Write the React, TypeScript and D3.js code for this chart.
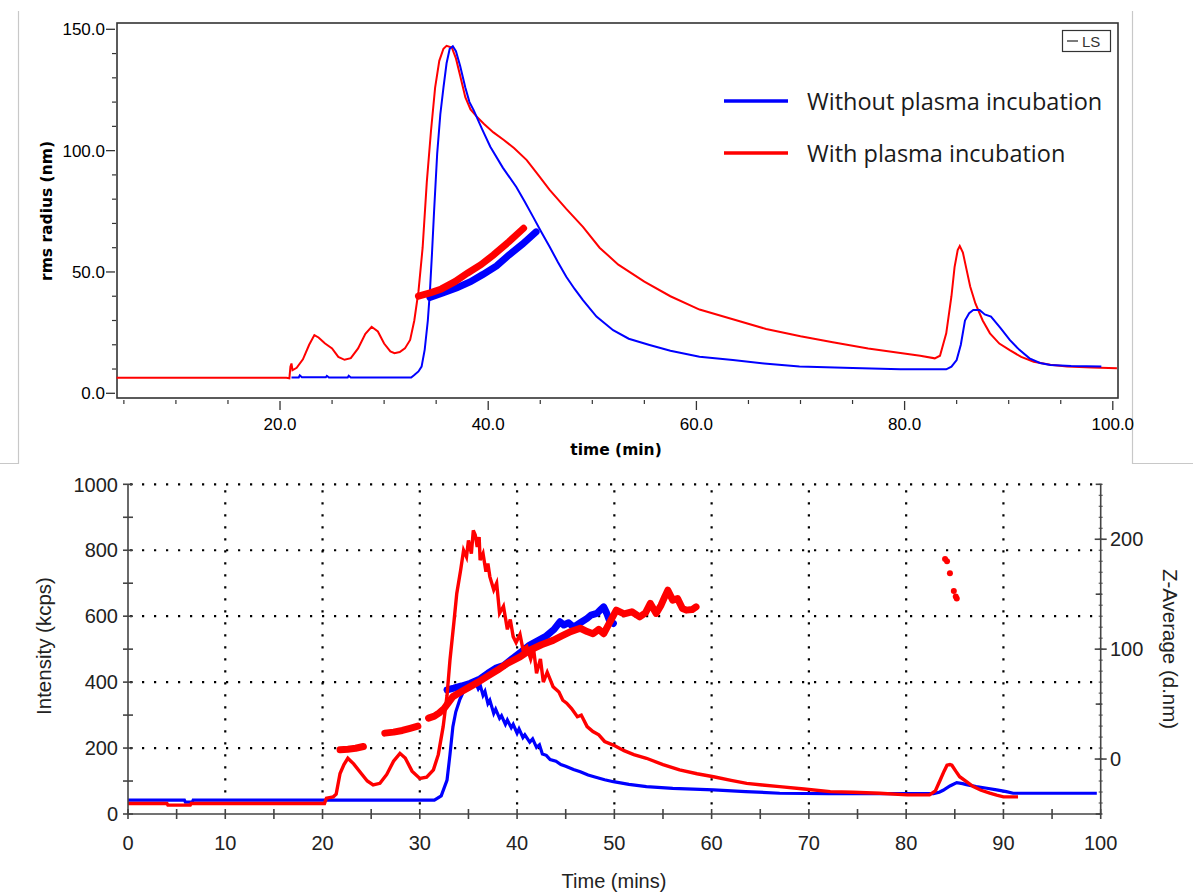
import React from 'react';
import * as d3 from 'd3';

type P = [number, number];

// ---------- Top panel: rms radius (nm) vs time (min) ----------
const rmsWithPlasma: P[] = [
  [4.3, 6.4], [20.6, 6.4], [20.9, 6.2], [21.0, 11], [21.1, 12.3], [21.2, 9.5], [21.6, 10.5], [22.2, 14],
  [22.8, 20], [23.3, 24], [23.7, 23], [24.3, 20.6], [25.0, 18.5], [25.6, 15], [26.2, 13.8], [26.8, 14.5],
  [27.5, 18.5], [28.2, 24.5], [28.8, 27.4], [29.4, 25.5], [30.0, 20.5], [30.6, 17.3], [31.0, 16.5],
  [31.5, 17], [32.0, 18.5], [32.5, 22], [32.9, 30], [33.3, 42], [33.7, 60], [34.1, 87], [34.5, 108],
  [34.9, 126], [35.3, 137], [35.7, 142], [36.0, 143.2], [36.5, 142.5], [36.9, 138], [37.3, 131],
  [37.8, 122], [38.3, 117], [38.9, 114], [39.6, 111], [40.5, 107.5], [41.5, 104.4], [42.5, 101],
  [43.7, 96.1], [44.8, 90], [45.9, 83.8], [47.5, 76], [49.1, 68.6], [50.7, 60], [52.5, 53], [55, 46],
  [57.5, 40], [60.3, 34.5], [63.5, 30.5], [66.7, 26.5], [70, 23.5], [73.1, 21], [76.5, 18.5],
  [79.6, 16.6], [81.5, 15.5], [82.9, 14.4], [83.4, 15.5], [84.0, 24.7], [84.5, 40], [84.8, 52],
  [85.1, 59], [85.3, 60.7], [85.6, 58], [85.9, 52], [86.3, 44], [86.8, 37], [87.5, 30], [88.2, 24.7],
  [89.1, 20.5], [90.1, 17.8], [91.2, 15], [92.4, 13], [94, 11.8], [95.6, 11], [98, 10.6], [100.4, 10.3],
];

const rmsWithoutPlasma: P[] = [
  [21.1, 6.5], [21.8, 6.5], [21.9, 7.4], [22.1, 6.6], [24.4, 6.6], [24.5, 7.2], [24.7, 6.5], [26.5, 6.5],
  [26.6, 7.2], [26.8, 6.5], [32.6, 6.5], [32.9, 7.5], [33.3, 9], [33.6, 11], [33.9, 18], [34.2, 30],
  [34.4, 42], [34.6, 57.7], [34.8, 75], [35.1, 98.9], [35.4, 115], [35.7, 126], [36.0, 136], [36.3, 142],
  [36.6, 143], [36.9, 141], [37.3, 135], [37.8, 126], [38.2, 120], [38.6, 116.7], [39.4, 109],
  [40.2, 101.6], [41.4, 93], [42.7, 85], [43.5, 79], [44.3, 72.8], [45.1, 66.5], [45.9, 60.4],
  [46.7, 54], [47.5, 48], [48.3, 43], [49.1, 38.4], [50.4, 31.6], [52, 26], [53.5, 22.5], [55.5, 19.9],
  [57.5, 17.5], [60.3, 15.1], [63.5, 13.7], [66.5, 12.3], [69.9, 11], [75, 10.4], [79.6, 9.9],
  [84.0, 9.9], [84.5, 11], [85.0, 13.7], [85.4, 20], [85.8, 30], [86.2, 33], [86.6, 34.3], [87.2, 34.3],
  [87.7, 32.5], [88.3, 31.6], [89.2, 27], [90.1, 22], [91, 18], [92.0, 14.4], [93, 12.5], [94.0, 11.7],
  [96, 11.2], [98.9, 11],
];

const rmsBandWith: P[] = [
  [33.3, 40], [34.5, 41.5], [35.5, 43], [36.8, 46], [38, 49.5], [39.3, 53], [40.5, 57], [42, 62.5], [43.4, 68],
];
const rmsBandWithout: P[] = [
  [34.4, 39.5], [35.7, 41.5], [37, 43.5], [38.3, 46], [39.5, 49], [40.8, 52.5], [42, 57], [43.3, 61.5], [44.6, 66.5],
];

const topXMajor = [20, 40, 60, 80, 100];
const topXMinor = [5, 10, 15, 25, 30, 35, 45, 50, 55, 65, 70, 75, 85, 90, 95];
const topYMajor = [0, 50, 100, 150];
const topYMinor = [10, 20, 30, 40, 60, 70, 80, 90, 110, 120, 130, 140];

const legendLabels = ['Without plasma incubation', 'With plasma incubation'];

// ---------- Bottom panel: Intensity (kcps) / Z-Average (d.nm) vs Time (mins) ----------
const intensityWithout: P[] = [
  [0, 42], [5.8, 42], [5.9, 36], [6.6, 36], [6.7, 42], [31.5, 42], [32.2, 55], [32.8, 103], [33.1, 180],
  [33.4, 265], [33.7, 310], [34.1, 346], [34.5, 372], [34.8, 386], [35.2, 396], [35.7, 401], [36.0, 380],
  [36.2, 392], [36.5, 360], [36.7, 372], [37.0, 335], [37.2, 345], [37.6, 305], [37.8, 318], [38.2, 290],
  [38.4, 298], [38.8, 272], [39.0, 285], [39.4, 262], [39.6, 272], [40.0, 245], [40.2, 258], [40.6, 232],
  [40.8, 240], [41.3, 218], [41.6, 228], [42.0, 202], [42.3, 210], [42.6, 182], [43.0, 178], [43.4, 165],
  [44, 160], [44.5, 150], [45, 145], [45.8, 135], [46.5, 128], [47.3, 118], [48, 112], [49.0, 104],
  [49.9, 98], [51.5, 90], [53.3, 83], [56, 78], [60.2, 73], [63.5, 68], [67, 63], [72, 62], [77.3, 62],
  [82.8, 62], [83.4, 66], [83.8, 72], [84.5, 85], [85.2, 95], [85.8, 92], [86.2, 89], [87.2, 83],
  [88.3, 78], [89.3, 73], [90.3, 68], [91.0, 63], [99.6, 63],
];

const intensityWith: P[] = [
  [0, 32], [4, 32], [4.1, 27], [6.4, 27], [6.5, 32], [20.2, 32], [20.4, 48], [21.1, 52], [21.4, 60],
  [21.8, 123], [22.2, 150], [22.6, 169], [23.2, 152], [24.0, 122], [24.6, 100], [25.2, 88], [25.9, 93],
  [26.6, 120], [27.3, 160], [27.96, 184], [28.5, 170], [29.2, 130], [30.0, 108], [30.7, 112], [31.4, 134],
  [31.9, 180], [32.4, 265], [32.8, 360], [33.1, 467], [33.5, 580], [33.8, 669], [34.2, 740], [34.5, 800],
  [34.8, 780], [35.0, 830], [35.3, 790], [35.5, 860], [35.7, 846], [35.9, 810], [36.1, 840], [36.2, 770],
  [36.5, 790], [36.8, 735], [37.0, 760], [37.2, 720], [37.6, 680], [37.9, 700], [38.2, 609], [38.6, 630],
  [39.0, 560], [39.3, 590], [39.6, 538], [39.9, 520], [40.3, 545], [40.6, 500], [41.0, 508], [41.4, 470],
  [41.7, 500], [42.0, 427], [42.4, 470], [42.7, 400], [43.1, 430], [43.7, 386], [44.3, 370], [44.7, 345],
  [45.1, 336], [45.6, 320], [46.2, 295], [46.6, 300], [47.2, 265], [47.8, 250], [48.4, 240], [49.0, 220],
  [49.9, 209], [51, 192], [52, 180], [53.3, 169], [55, 150], [56.7, 134], [58.5, 122], [60.2, 113],
  [62, 102], [63.6, 93], [65.2, 88], [67, 83], [69.5, 76], [72.2, 68], [74.5, 66], [77.3, 63], [80.1, 58],
  [82.4, 58], [83.0, 70], [83.5, 103], [83.9, 130], [84.2, 148], [84.5, 150], [84.7, 148], [85.1, 130],
  [85.5, 113], [86.2, 98], [86.9, 83], [87.7, 72], [88.6, 63], [89.3, 57], [90.0, 52], [91.5, 52],
];

const zAvgWithout: P[] = [
  [32.8, 62.9], [33.5, 64.5], [34.3, 66.5], [35.2, 69], [36.2, 73], [37.0, 78], [37.9, 83], [38.6, 85],
  [39.6, 92], [40.5, 98], [41.3, 103.7], [42.2, 108], [43.0, 112], [43.8, 118], [44.4, 124.9], [44.8, 122],
  [45.3, 124], [45.8, 120], [46.5, 124], [47.2, 128], [47.6, 131], [48.2, 132.5], [48.6, 136], [48.9, 138.5],
  [49.2, 133], [49.5, 126], [49.9, 123.4],
];
const zAvgWithA: P[] = [[21.8, 8.5], [22.6, 9], [23.4, 9.8], [24.2, 11.4]];
const zAvgWithB: P[] = [[26.4, 23.6], [27.3, 24.5], [28.2, 26], [29.0, 28], [29.8, 30]];
const zAvgWithC: P[] = [
  [30.9, 37.2], [31.5, 39], [32.0, 42], [32.5, 46], [33.0, 52], [33.4, 56.8], [34.2, 61], [35.0, 65],
  [36.0, 70], [36.9, 75], [38.0, 81], [39.0, 87], [40.3, 93], [41.3, 99], [42.5, 104], [43.7, 108],
  [44.6, 112], [45.5, 116], [46.5, 119], [47.2, 116], [47.8, 114], [48.4, 118], [48.9, 114], [49.5, 124],
  [50.2, 135.5], [51.0, 132], [51.8, 134], [52.6, 129.4], [53.2, 133], [53.7, 141.6], [54.3, 132.5],
  [54.8, 140], [55.2, 148], [55.5, 153.6], [56.0, 144.6], [56.5, 146], [57.0, 137], [57.4, 135.5],
  [58.0, 136], [58.4, 138.5],
];
const zAvgWithLate: P[] = [[84.0, 182], [84.2, 180], [84.5, 169], [84.9, 153], [85.1, 148], [85.2, 146]];

const botXTicks = d3.range(0, 101, 10);
const botXMinor = d3.range(5, 100, 10);
const botYLeft = [0, 200, 400, 600, 800, 1000];
const botYLeftMinor = [100, 300, 500, 700, 900];
const botYRight = [0, 100, 200];
const botYRightMid = [-50, 50, 150, 250];
const botYRightSmall = d3.range(-50, 251, 10);

const BLUE = '#0000ff';
const RED = '#ff0000';

export default function App() {
  // top scales
  const tx = d3.scaleLinear().domain([4.34, 100.5]).range([117, 1118]);
  const ty = d3.scaleLinear().domain([0, 150]).range([393.3, 29.3]);
  const topLine = d3.line<P>().x((d) => tx(d[0])).y((d) => ty(d[1]));

  // bottom scales
  const bx = d3.scaleLinear().domain([0, 100]).range([128, 1100.7]);
  const byL = d3.scaleLinear().domain([0, 1000]).range([814, 484.3]);
  const byR = d3.scaleLinear().domain([-50, 250]).range([814, 484.3]);
  const intLine = d3.line<P>().x((d) => bx(d[0])).y((d) => byL(d[1]));
  const zLine = d3.line<P>().x((d) => bx(d[0])).y((d) => byR(d[1]));

  const tickFont = "'Liberation Sans', Arial, sans-serif";
  const boldFont = "'DejaVu Sans', Verdana, sans-serif";
  const legendFont = "'Open Sans', 'Noto Sans', sans-serif";

  const gridH = botYLeft.filter((v) => v > 0);
  const gridV = d3.range(10, 100, 10);

  return (
    <svg width={1193} height={894} style={{ position: 'absolute', left: 0, top: 0, background: '#fff' }}>
      <rect x={0} y={0} width={1193} height={894} fill="#fff" />
      {/* gray panel frame lines */}
      <g stroke="#c8c8c8" strokeWidth={1.2} fill="none">
        <path d="M18.5,11 V463.5 H0" />
        <path d="M1132.5,11 V463.5 H1193" />
      </g>

      {/* ================= TOP PANEL ================= */}
      <g>
        <rect x={117} y={23} width={1001} height={375} fill="none" stroke="#333" strokeWidth={1.6} />
        {topYMajor.map((v) => (
          <g key={'tym' + v}>
            <line x1={106} x2={115} y1={ty(v)} y2={ty(v)} stroke="#333" strokeWidth={1.3} />
            <text x={105} y={ty(v)} dy="0.36em" textAnchor="end" fontFamily={tickFont} fontSize={17} fill="#000">
              {d3.format('.1f')(v)}
            </text>
          </g>
        ))}
        {topYMinor.map((v) => (
          <line key={'tyn' + v} x1={112} x2={116} y1={ty(v)} y2={ty(v)} stroke="#333" strokeWidth={1.2} />
        ))}
        {topXMajor.map((v) => (
          <g key={'txm' + v}>
            <line x1={tx(v)} x2={tx(v)} y1={401} y2={410} stroke="#333" strokeWidth={1.3} />
            <text x={tx(v)} y={430} textAnchor="middle" fontFamily={tickFont} fontSize={17} fill="#000">
              {d3.format('.1f')(v)}
            </text>
          </g>
        ))}
        {topXMinor.map((v) => (
          <line key={'txn' + v} x1={tx(v)} x2={tx(v)} y1={400} y2={404} stroke="#333" strokeWidth={1.2} />
        ))}
        <text
          transform={`translate(52,211) rotate(-90)`}
          textAnchor="middle"
          fontFamily={boldFont}
          fontWeight="bold"
          fontSize={15.5}
          fill="#000"
        >
          rms radius (nm)
        </text>
        <text x={616} y={455} textAnchor="middle" fontFamily={boldFont} fontWeight="bold" fontSize={15.5} fill="#000">
          time (min)
        </text>

        {/* data */}
        <path d={topLine(rmsWithPlasma) || ''} fill="none" stroke={RED} strokeWidth={2} />
        <path d={topLine(rmsWithoutPlasma) || ''} fill="none" stroke={BLUE} strokeWidth={2} />
        <path d={topLine(rmsBandWithout) || ''} fill="none" stroke={BLUE} strokeWidth={7} strokeLinecap="round" />
        <path d={topLine(rmsBandWith) || ''} fill="none" stroke={RED} strokeWidth={7} strokeLinecap="round" />

        {/* LS box */}
        <rect x={1062.5} y={30.5} width={48} height={21} fill="#fff" stroke="#333" strokeWidth={1.2} />
        <line x1={1067} x2={1078} y1={41} y2={41} stroke="#333" strokeWidth={1.3} />
        <text x={1082} y={46.5} fontFamily={tickFont} fontSize={15} fill="#333">
          LS
        </text>

        {/* legend */}
        {legendLabels.map((lab, i) => (
          <g key={lab}>
            <line
              x1={724}
              x2={788}
              y1={101 + i * 52}
              y2={101 + i * 52}
              stroke={i === 0 ? BLUE : RED}
              strokeWidth={3.3}
            />
            <text x={807} y={110 + i * 52} fontFamily={legendFont} fontSize={23.5} fill="#1a1a1a">
              {lab}
            </text>
          </g>
        ))}
      </g>

      {/* ================= BOTTOM PANEL ================= */}
      <g>
        <g stroke="#000" strokeWidth={2.2} strokeDasharray="2.2 9.8" fill="none">
          {gridH.map((v) => (
            <line key={'gh' + v} x1={bx(0) + 2} x2={bx(100)} y1={byL(v)} y2={byL(v)} />
          ))}
          {gridV.map((v) => (
            <line key={'gv' + v} x1={bx(v)} x2={bx(v)} y1={byL(1000) + 6} y2={byL(0)} />
          ))}
        </g>

        <path d={intLine(intensityWithout) || ''} fill="none" stroke={BLUE} strokeWidth={3.2} />
        <path d={zLine(zAvgWithout) || ''} fill="none" stroke={BLUE} strokeWidth={7} strokeLinecap="round" strokeLinejoin="round" />
        <path d={intLine(intensityWith) || ''} fill="none" stroke={RED} strokeWidth={3.4} />
        {[zAvgWithA, zAvgWithB, zAvgWithC].map((seg, i) => (
          <path key={'zr' + i} d={zLine(seg) || ''} fill="none" stroke={RED} strokeWidth={7} strokeLinecap="round" strokeLinejoin="round" />
        ))}
        {zAvgWithLate.map((d, i) => (
          <circle key={'zl' + i} cx={bx(d[0])} cy={byR(d[1])} r={3} fill={RED} />
        ))}

        <g stroke="#444" strokeWidth={1.6}>
          <line x1={bx(0)} x2={bx(0)} y1={byL(1000)} y2={byL(0)} />
          <line x1={bx(0)} x2={bx(100)} y1={byL(0)} y2={byL(0)} />
          <line x1={bx(100)} x2={bx(100)} y1={byL(1000)} y2={byL(0)} />
          {[...botYLeft, ...botYLeftMinor].map((v) => (
            <line key={'yl' + v} x1={bx(0) - 5} x2={bx(0) + 5} y1={byL(v)} y2={byL(v)} />
          ))}
          {[...botXTicks, ...botXMinor].map((v) => (
            <line key={'xt' + v} x1={bx(v)} x2={bx(v)} y1={byL(0) - 5} y2={byL(0) + 5} />
          ))}
          {botYRight.map((v) => (
            <line key={'yr' + v} x1={bx(100) - 6} x2={bx(100) + 6} y1={byR(v)} y2={byR(v)} />
          ))}
          {botYRightMid.map((v) => (
            <line key={'yrm' + v} x1={bx(100) - 5} x2={bx(100) + 1} y1={byR(v)} y2={byR(v)} />
          ))}
          {botYRightSmall.map((v) => (
            <line key={'yrs' + v} x1={bx(100) - 2} x2={bx(100) + 2} y1={byR(v)} y2={byR(v)} strokeWidth={1} />
          ))}
        </g>

        {botYLeft.map((v) => (
          <text key={'ylt' + v} x={118} y={byL(v)} dy="0.36em" textAnchor="end" fontFamily={tickFont} fontSize={20} fill="#222">
            {v}
          </text>
        ))}
        {botXTicks.map((v) => (
          <text key={'xlt' + v} x={bx(v)} y={850} textAnchor="middle" fontFamily={tickFont} fontSize={20} fill="#222">
            {v}
          </text>
        ))}
        {botYRight.map((v) => (
          <text key={'yrt' + v} x={1110} y={byR(v)} dy="0.36em" textAnchor="start" fontFamily={tickFont} fontSize={20} fill="#222">
            {v}
          </text>
        ))}

        <text transform="translate(51,646) rotate(-90)" textAnchor="middle" fontFamily={tickFont} fontSize={20.5} fill="#222">
          Intensity (kcps)
        </text>
        <text transform="translate(1163,649) rotate(90)" textAnchor="middle" fontFamily={tickFont} fontSize={20.5} fill="#222">
          Z-Average (d.nm)
        </text>
        <text x={614} y={888} textAnchor="middle" fontFamily={tickFont} fontSize={20} fill="#222">
          Time (mins)
        </text>
      </g>
    </svg>
  );
}
